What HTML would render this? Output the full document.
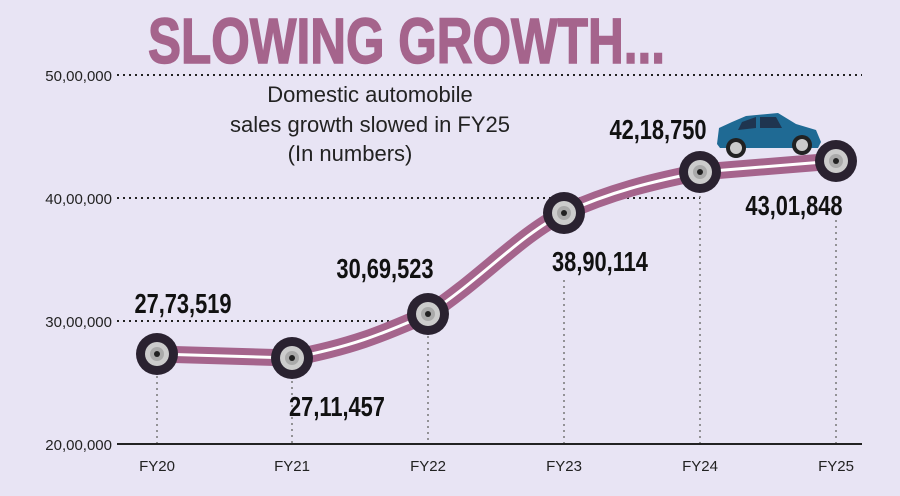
<!DOCTYPE html>
<html><head><style>
body{margin:0;background:#e8e4f4;}
svg text{font-family:"Liberation Sans",sans-serif;}
</style></head><body>
<svg width="900" height="491" viewBox="0 0 900 491" xmlns="http://www.w3.org/2000/svg">
<rect width="900" height="491" fill="#e8e4f4"/>
<text x="148" y="63" font-size="64" font-weight="bold" fill="#a5648c" stroke="#a5648c" stroke-width="1.5" textLength="517" lengthAdjust="spacingAndGlyphs">SLOWING GROWTH...</text>
<g stroke="#222" stroke-width="2" stroke-dasharray="2 4" fill="none">
<line x1="117" y1="75" x2="862" y2="75"/>
<line x1="117" y1="198" x2="700" y2="198"/>
<line x1="117" y1="321" x2="420" y2="321"/>
</g>
<g stroke="#777" stroke-width="1.5" stroke-dasharray="2 4">
<line x1="157" y1="370" x2="157" y2="444"/>
<line x1="292" y1="375" x2="292" y2="444"/>
<line x1="428" y1="330" x2="428" y2="444"/>
<line x1="564" y1="280" x2="564" y2="444"/>
<line x1="700" y1="190" x2="700" y2="444"/>
<line x1="836" y1="220" x2="836" y2="444"/>
</g>
<line x1="117" y1="444" x2="862" y2="444" stroke="#222" stroke-width="2"/>
<g font-size="15" fill="#222" text-anchor="end">
<text x="112" y="81">50,00,000</text>
<text x="112" y="204">40,00,000</text>
<text x="112" y="327">30,00,000</text>
<text x="112" y="450">20,00,000</text>
</g>
<g font-size="15" fill="#222" text-anchor="middle">
<text x="157" y="471">FY20</text><text x="292" y="471">FY21</text><text x="428" y="471">FY22</text>
<text x="564" y="471">FY23</text><text x="700" y="471">FY24</text><text x="836" y="471">FY25</text>
</g>
<g font-size="22" fill="#222" text-anchor="middle">
<text x="370" y="102">Domestic automobile</text>
<text x="370" y="132">sales growth slowed in FY25</text>
<text x="350" y="161">(In numbers)</text>
</g>
<path d="M157,354 L292,358 C360,345 390,330 428,314 C480,280 520,235 564,213 C610,192 650,182 700,172 L836,161" stroke="#a5648c" stroke-width="17" fill="none"/>
<path d="M157,354 L292,358 C360,345 390,330 428,314 C480,280 520,235 564,213 C610,192 650,182 700,172 L836,161" stroke="#fff" stroke-width="3" fill="none"/>
<defs><g id="w"><circle r="21" fill="#2a2230"/><circle r="12" fill="#ccc"/><circle r="7" fill="#aaa"/><circle r="3" fill="#222"/></g></defs>
<use href="#w" x="157" y="354"/><use href="#w" x="292" y="358"/><use href="#w" x="428" y="314"/>
<use href="#w" x="564" y="213"/><use href="#w" x="700" y="172"/><use href="#w" x="836" y="161"/>
<g transform="translate(716 112)">
<path d="M1,32 L3,16 L16,10 L30,4 L62,1 L80,12 L100,18 L105,30 L102,36 L4,36 Z" fill="#1f6a94"/>
<path d="M26,10 L40,5 L40,16 L22,18 Z M44,5 L60,5 L66,16 L44,16 Z" fill="#1f3550"/>
<circle cx="20" cy="36" r="10" fill="#222"/><circle cx="20" cy="36" r="6" fill="#ccc"/>
<circle cx="86" cy="33" r="10" fill="#222"/><circle cx="86" cy="33" r="6" fill="#ccc"/>
</g>
<g font-size="28" font-weight="bold" fill="#111" text-anchor="middle">
<text x="183" y="313" transform="translate(183 0) scale(0.78 1) translate(-183 0)">27,73,519</text>
<text x="337" y="416" transform="translate(337 0) scale(0.78 1) translate(-337 0)">27,11,457</text>
<text x="385" y="278" transform="translate(385 0) scale(0.78 1) translate(-385 0)">30,69,523</text>
<text x="600" y="271" transform="translate(600 0) scale(0.78 1) translate(-600 0)">38,90,114</text>
<text x="658" y="139" transform="translate(658 0) scale(0.78 1) translate(-658 0)">42,18,750</text>
<text x="794" y="215" transform="translate(794 0) scale(0.78 1) translate(-794 0)">43,01,848</text>
</g>
</svg>
</body></html>
